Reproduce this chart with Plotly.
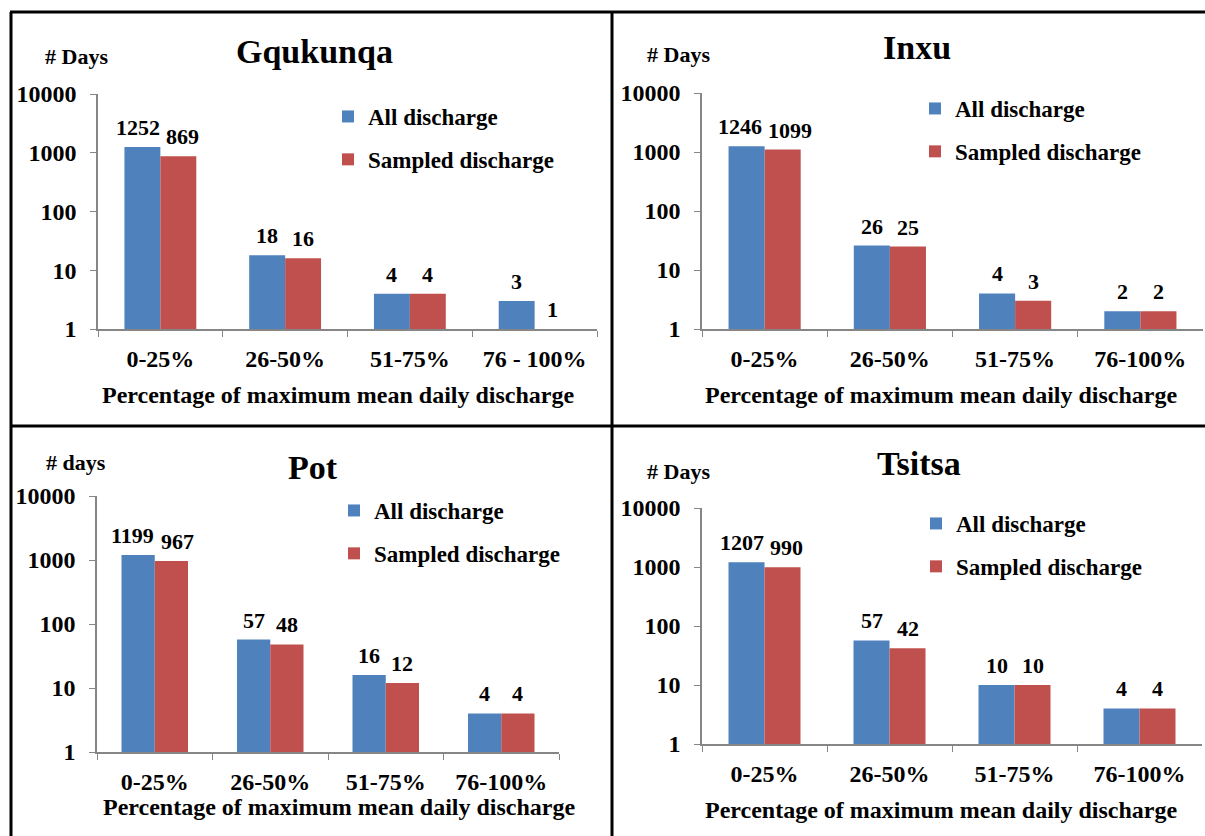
import math
import plotly.graph_objects as go

# ---- data -----------------------------------------------------------------
stations = ["Gqukunqa", "Inxu", "Pot", "Tsitsa"]
y_titles = ["# Days", "# Days", "# days", "# Days"]

categories_gqukunqa = ["0-25%", "26-50%", "51-75%", "76 - 100%"]
categories_other = ["0-25%", "26-50%", "51-75%", "76-100%"]

gqukunqa_all = [1252, 18, 4, 3]
gqukunqa_sampled = [869, 16, 4, 1]
inxu_all = [1246, 26, 4, 2]
inxu_sampled = [1099, 25, 3, 2]
pot_all = [1199, 57, 16, 4]
pot_sampled = [967, 48, 12, 4]
tsitsa_all = [1207, 57, 10, 4]
tsitsa_sampled = [990, 42, 10, 4]

y_tick_values = [1, 10, 100, 1000, 10000]
y_tick_labels = ["1", "10", "100", "1000", "10000"]

series_names = ["All discharge", "Sampled discharge"]
x_title = "Percentage of maximum mean daily discharge"

# ---- styling --------------------------------------------------------------
W, H = 1205, 836
BLUE = "#4F81BD"
RED = "#C0504D"
AXIS_GREY = "#868686"
FONT = "Liberation Serif"
LABEL_SIZE = 22
BARGAP = 0.424


def px_x(v):
    return v / W


def px_y(v):
    return 1 - v / H


# plot boxes in pixels: (left, right, top, bottom)
boxes = [
    (98, 597, 94, 329),
    (702, 1203, 93, 329),
    (97, 559, 496, 752),
    (702, 1202, 508, 744),
]
# (title x, title y, ytitle x, ytitle y, xtitle x, xtitle y, legend x, legend y)
text_pos = [
    (314, 52, 76, 57, 338, 395, 328, 95),
    (917, 48, 678, 55, 941, 395, 915, 87),
    (313, 467, 76, 462, 339, 807, 334, 489),
    (919, 463, 678, 472, 941, 810, 916, 502),
]

panels = [
    (categories_gqukunqa, gqukunqa_all, gqukunqa_sampled),
    (categories_other, inxu_all, inxu_sampled),
    (categories_other, pot_all, pot_sampled),
    (categories_other, tsitsa_all, tsitsa_sampled),
]

fig = go.Figure()
layout = dict(
    width=W,
    height=H,
    margin=dict(l=0, r=0, t=0, b=0, autoexpand=False),
    paper_bgcolor="white",
    plot_bgcolor="white",
    barmode="group",
    bargap=BARGAP,
    bargroupgap=0,
    showlegend=True,
    font=dict(family=FONT, color="black"),
)

annotations = []
for i, (cats, all_vals, samp_vals) in enumerate(panels):
    n = "" if i == 0 else str(i + 1)
    xa, ya = "x" + n, "y" + n
    lg = "legend" + n
    left, right, top, bottom = boxes[i]
    for name, vals, color in ((series_names[0], all_vals, BLUE),
                              (series_names[1], samp_vals, RED)):
        fig.add_trace(go.Bar(
            x=cats, y=vals, name=name, xaxis=xa, yaxis=ya,
            marker=dict(color=color, line=dict(width=0)),
            legend=lg, legendgroup=name + n, hoverinfo="skip",
        ))
    layout["xaxis" + n] = dict(
        domain=[px_x(left), px_x(right)], anchor=ya,
        type="category", range=[-0.5, 3.5], automargin=False,
        showline=True, linecolor=AXIS_GREY, linewidth=1.5,
        ticks="outside", tickson="boundaries", ticklen=6, tickcolor=AXIS_GREY,
        tickfont=dict(family=FONT, size=24, color="black", weight="bold"),
        ticklabelstandoff=7, showgrid=False, zeroline=False, fixedrange=True,
    )
    layout["yaxis" + n] = dict(
        domain=[px_y(bottom), px_y(top)], anchor=xa,
        type="log", range=[0, 4], automargin=False,
        tickvals=y_tick_values, ticktext=y_tick_labels,
        showline=True, linecolor=AXIS_GREY, linewidth=1.5,
        ticks="outside", ticklen=6, tickcolor=AXIS_GREY,
        tickfont=dict(family=FONT, size=24, color="black", weight="bold"),
        ticklabelstandoff=9, showgrid=False, zeroline=False, fixedrange=True,
    )
    tx, ty, yx, yy, xx, xy, lx, ly = text_pos[i]
    layout[lg] = dict(
        x=px_x(lx), y=px_y(ly), xanchor="left", yanchor="top",
        bgcolor="rgba(0,0,0,0)", borderwidth=0,
        font=dict(family=FONT, size=23, color="black", weight="bold"),
        traceorder="grouped", tracegroupgap=10, itemclick=False,
    )
    annotations += [
        dict(x=px_x(tx), y=px_y(ty), xref="paper", yref="paper",
             text=stations[i], showarrow=False, xanchor="center", yanchor="middle",
             font=dict(family=FONT, size=34, color="black", weight="bold")),
        dict(x=px_x(yx), y=px_y(yy), xref="paper", yref="paper",
             text=y_titles[i], showarrow=False, xanchor="center", yanchor="middle",
             font=dict(family=FONT, size=22, color="black", weight="bold")),
        dict(x=px_x(xx), y=px_y(xy), xref="paper", yref="paper",
             text=x_title, showarrow=False, xanchor="center", yanchor="middle",
             font=dict(family=FONT, size=24, color="black", weight="bold")),
    ]

    # value labels above each bar, nudged apart where neighbours would collide
    bar_w = (right - left) / len(cats) * (1 - BARGAP) / 2
    for j, cat in enumerate(cats):
        a, s = all_vals[j], samp_vals[j]
        wa = len(str(a)) * LABEL_SIZE * 0.5
        ws = len(str(s)) * LABEL_SIZE * 0.5
        need = (wa + ws) / 2 + 6
        spread = max(0.0, (need - bar_w) / 2)
        for v, dx in ((a, -bar_w / 2 - spread), (s, bar_w / 2 + spread)):
            annotations.append(dict(
                x=cat, y=math.log10(v), xref=xa, yref=ya,
                text=str(v), showarrow=False, xanchor="center", yanchor="bottom",
                xshift=dx, yshift=5,
                font=dict(family=FONT, size=LABEL_SIZE, color="black", weight="bold"),
            ))

# panel frame lines
frame = []
for (x0, y0, x1, y1) in [(10, 12, 1205, 12), (11, 12, 11, 836),
                         (612, 12, 612, 836), (11, 426, 1205, 426)]:
    frame.append(dict(type="line", xref="paper", yref="paper",
                      x0=px_x(x0), y0=px_y(y0), x1=px_x(x1), y1=px_y(y1),
                      line=dict(color="black", width=3)))

layout["annotations"] = annotations
layout["shapes"] = frame
fig.update_layout(**layout)

fig.write_html("out.html")
